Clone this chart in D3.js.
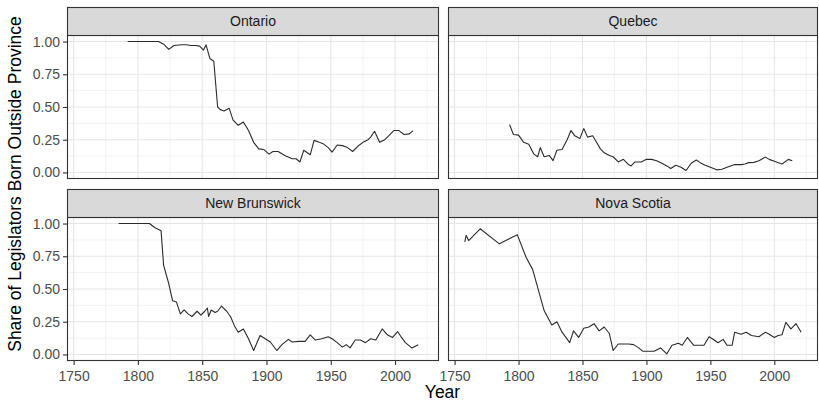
<!DOCTYPE html>
<html>
<head>
<meta charset="utf-8">
<script src="https://cdn.jsdelivr.net/npm/d3@7"></script>
<style>
  body { margin: 0; background: #fff; }
  text { font-family: "Liberation Sans", Arial, Helvetica, sans-serif; }
</style>
</head>
<body>
<svg id="chart" width="819" height="402"></svg>
<script>
// values: [year, share born outside province]
const ontario = [
  [1792, 1.00], [1800, 1.00], [1808, 1.00], [1816, 1.00], [1820, 0.98], [1824, 0.94],
  [1828, 0.97], [1834, 0.975], [1838, 0.975], [1841, 0.97], [1845, 0.97], [1848, 0.965],
  [1851, 0.935], [1853, 0.975], [1856, 0.87], [1859, 0.85], [1862, 0.50], [1864, 0.48],
  [1867, 0.47], [1871, 0.49], [1874, 0.40], [1878, 0.36], [1882, 0.385], [1886, 0.32],
  [1890, 0.23], [1894, 0.18], [1898, 0.175], [1902, 0.14], [1905, 0.16], [1909, 0.16],
  [1915, 0.125], [1920, 0.105], [1923, 0.105], [1926, 0.08], [1929, 0.17], [1934, 0.135],
  [1937, 0.245], [1941, 0.23], [1944, 0.22], [1948, 0.19], [1951, 0.155], [1955, 0.21],
  [1959, 0.205], [1963, 0.19], [1967, 0.16], [1971, 0.20], [1975, 0.23], [1979, 0.25],
  [1981, 0.27], [1984, 0.315], [1988, 0.23], [1992, 0.25], [1995, 0.28], [1999, 0.32],
  [2003, 0.32], [2007, 0.29], [2011, 0.295], [2014, 0.32]
];

const quebec = [
  [1793, 0.365], [1796, 0.29], [1800, 0.285], [1804, 0.23], [1808, 0.215], [1812, 0.14],
  [1815, 0.12], [1817, 0.19], [1820, 0.12], [1824, 0.13], [1827, 0.09], [1830, 0.17],
  [1834, 0.175], [1838, 0.25], [1841, 0.32], [1844, 0.28], [1848, 0.26], [1851, 0.335],
  [1854, 0.27], [1858, 0.28], [1861, 0.23], [1864, 0.18], [1867, 0.15], [1871, 0.13],
  [1874, 0.12], [1878, 0.08], [1882, 0.10], [1886, 0.06], [1888, 0.05], [1891, 0.08],
  [1896, 0.08], [1900, 0.10], [1904, 0.10], [1908, 0.09], [1912, 0.07], [1916, 0.05],
  [1919, 0.03], [1923, 0.055], [1927, 0.04], [1931, 0.015], [1935, 0.07], [1939, 0.095],
  [1942, 0.075], [1946, 0.055], [1950, 0.04], [1955, 0.02], [1959, 0.025], [1963, 0.04],
  [1969, 0.06], [1974, 0.06], [1977, 0.065], [1980, 0.075], [1984, 0.077], [1988, 0.09],
  [1993, 0.117], [1996, 0.10], [2000, 0.086], [2006, 0.065], [2011, 0.10], [2014, 0.09]
];

const newBrunswick = [
  [1785, 1.00], [1793, 1.00], [1802, 1.00], [1809, 1.00], [1813, 0.97], [1818, 0.945],
  [1820, 0.68], [1824, 0.54], [1827, 0.41], [1830, 0.40], [1833, 0.31], [1836, 0.34],
  [1839, 0.31], [1842, 0.29], [1846, 0.33], [1849, 0.30], [1852, 0.33], [1854, 0.355],
  [1855, 0.29], [1857, 0.34], [1860, 0.32], [1862, 0.33], [1865, 0.37], [1869, 0.33],
  [1872, 0.29], [1875, 0.22], [1878, 0.17], [1882, 0.195], [1886, 0.12], [1890, 0.03],
  [1895, 0.145], [1899, 0.12], [1903, 0.095], [1908, 0.03], [1912, 0.075], [1917, 0.115],
  [1920, 0.095], [1925, 0.10], [1930, 0.10], [1934, 0.15], [1938, 0.11], [1943, 0.12],
  [1948, 0.135], [1951, 0.12], [1955, 0.09], [1959, 0.056], [1962, 0.075], [1965, 0.05],
  [1969, 0.11], [1973, 0.11], [1977, 0.09], [1981, 0.12], [1985, 0.11], [1990, 0.195],
  [1994, 0.15], [1998, 0.13], [2002, 0.175], [2005, 0.13], [2008, 0.09], [2013, 0.05],
  [2018, 0.075]
];

const novaScotia = [
  [1758, 0.86], [1759, 0.91], [1761, 0.87], [1770, 0.96], [1785, 0.845], [1799, 0.915],
  [1806, 0.74], [1811, 0.65], [1815, 0.51], [1820, 0.335], [1826, 0.225], [1830, 0.25],
  [1834, 0.17], [1840, 0.09], [1843, 0.18], [1847, 0.13], [1851, 0.20], [1855, 0.21],
  [1859, 0.235], [1863, 0.18], [1867, 0.21], [1871, 0.16], [1874, 0.03], [1878, 0.08],
  [1882, 0.08], [1886, 0.08], [1890, 0.075], [1894, 0.05], [1897, 0.025], [1901, 0.025],
  [1906, 0.025], [1911, 0.05], [1916, 0.005], [1920, 0.07], [1925, 0.085], [1928, 0.07],
  [1932, 0.13], [1937, 0.07], [1941, 0.07], [1945, 0.07], [1949, 0.135], [1953, 0.11],
  [1956, 0.09], [1960, 0.115], [1963, 0.07], [1967, 0.07], [1969, 0.17], [1974, 0.155],
  [1978, 0.17], [1982, 0.145], [1988, 0.135], [1993, 0.17], [1996, 0.155], [2000, 0.13],
  [2003, 0.145], [2006, 0.15], [2009, 0.245], [2013, 0.195], [2017, 0.235], [2021, 0.17]
];

const provinces = ["Ontario", "Quebec", "New Brunswick", "Nova Scotia"];
const seriesFor = { "Ontario": ontario, "Quebec": quebec, "New Brunswick": newBrunswick, "Nova Scotia": novaScotia };

const xTicks = [1750, 1800, 1850, 1900, 1950, 2000];
const xMinor = [1775, 1825, 1875, 1925, 1975, 2025];
const yTicks = [0, 0.25, 0.5, 0.75, 1];
const yMinor = [0.125, 0.375, 0.625, 0.875];

const svg = d3.select("#chart");

// facet grid geometry (2 x 2, ggplot theme_bw look)
const cols = [{ x0: 67, x1: 439 }, { x0: 448, x1: 818 }];
const rows = [{ strip: 7, y0: 35, y1: 179 }, { strip: 189, y0: 217, y1: 361 }];

const allYears = d3.merge(provinces.map((p) => seriesFor[p])).map((d) => d[0]);
const [yrMin, yrMax] = d3.extent(allYears);
const pad = (yrMax - yrMin) * 0.05;

const grey20 = "#333333";

provinces.forEach((name, i) => {
  const c = cols[i % 2];
  const r = rows[Math.floor(i / 2)];

  const x = d3.scaleLinear().domain([yrMin - pad, yrMax + pad]).range([c.x0, c.x1]);
  const y = d3.scaleLinear().domain([-0.05, 1.05]).range([r.y1, r.y0]);

  const g = svg.append("g");

  // panel background + grid
  g.append("rect")
    .attr("x", c.x0).attr("y", r.y0)
    .attr("width", c.x1 - c.x0).attr("height", r.y1 - r.y0)
    .attr("fill", "#fff");

  g.append("g").selectAll("line.minx").data(xMinor.filter((t) => x(t) < c.x1)).join("line")
    .attr("x1", (t) => x(t)).attr("x2", (t) => x(t))
    .attr("y1", r.y0).attr("y2", r.y1)
    .attr("stroke", "#ebebeb").attr("stroke-width", 0.6);
  g.append("g").selectAll("line.miny").data(yMinor).join("line")
    .attr("x1", c.x0).attr("x2", c.x1)
    .attr("y1", (t) => y(t)).attr("y2", (t) => y(t))
    .attr("stroke", "#ebebeb").attr("stroke-width", 0.6);
  g.append("g").selectAll("line.majx").data(xTicks).join("line")
    .attr("x1", (t) => x(t)).attr("x2", (t) => x(t))
    .attr("y1", r.y0).attr("y2", r.y1)
    .attr("stroke", "#e6e6e6").attr("stroke-width", 1.1);
  g.append("g").selectAll("line.majy").data(yTicks).join("line")
    .attr("x1", c.x0).attr("x2", c.x1)
    .attr("y1", (t) => y(t)).attr("y2", (t) => y(t))
    .attr("stroke", "#e6e6e6").attr("stroke-width", 1.1);

  // the series
  const line = d3.line().x((d) => x(d[0])).y((d) => y(d[1]));
  g.append("path")
    .datum(seriesFor[name])
    .attr("d", line)
    .attr("fill", "none")
    .attr("stroke", "#2b2b2b")
    .attr("stroke-width", 1.1)
    .attr("stroke-linejoin", "round");

  // panel border
  g.append("rect")
    .attr("x", c.x0 + 0.5).attr("y", r.y0 + 0.5)
    .attr("width", c.x1 - c.x0 - 1).attr("height", r.y1 - r.y0 - 1)
    .attr("fill", "none").attr("stroke", grey20).attr("stroke-width", 1.1);

  // strip
  g.append("rect")
    .attr("x", c.x0 + 0.5).attr("y", r.strip + 0.5)
    .attr("width", c.x1 - c.x0 - 1).attr("height", r.y0 - r.strip)
    .attr("fill", "#d9d9d9").attr("stroke", grey20).attr("stroke-width", 1.1);
  g.append("text")
    .attr("x", (c.x0 + c.x1) / 2).attr("y", (r.strip + r.y0) / 2 + 1)
    .attr("text-anchor", "middle").attr("dominant-baseline", "middle")
    .attr("font-size", 14).attr("fill", "#1a1a1a")
    .text(name);

  // axes only on the outer panels
  if (i % 2 === 0) {
    const ax = g.append("g")
      .attr("transform", `translate(${c.x0},0)`)
      .call(d3.axisLeft(y).tickValues(yTicks).tickFormat(d3.format(".2f")).tickSize(4).tickPadding(3));
    ax.select(".domain").remove();
    ax.selectAll("line").attr("stroke", grey20).attr("stroke-width", 1.1);
    ax.selectAll("text").attr("font-size", 14).attr("fill", "#4d4d4d")
      .style("font-family", '"Liberation Sans", Arial, sans-serif');
  }
  if (i >= 2) {
    const ax = g.append("g")
      .attr("transform", `translate(0,${r.y1})`)
      .call(d3.axisBottom(x).tickValues(xTicks).tickFormat(d3.format("d")).tickSize(4).tickPadding(6));
    ax.select(".domain").remove();
    ax.selectAll("line").attr("stroke", grey20).attr("stroke-width", 1.1);
    ax.selectAll("text").attr("font-size", 14).attr("fill", "#4d4d4d")
      .style("font-family", '"Liberation Sans", Arial, sans-serif');
  }
});

// axis titles
svg.append("text")
  .attr("x", (cols[0].x0 + cols[1].x1) / 2).attr("y", 398)
  .attr("text-anchor", "middle").attr("font-size", 17.5).attr("fill", "#000")
  .text("Year");

svg.append("text")
  .attr("transform", `translate(21,${(rows[0].strip + rows[1].y1) / 2}) rotate(-90)`)
  .attr("text-anchor", "middle").attr("font-size", 17.5).attr("fill", "#000")
  .text("Share of Legislators Born Outside Province");
</script>
</body>
</html>
